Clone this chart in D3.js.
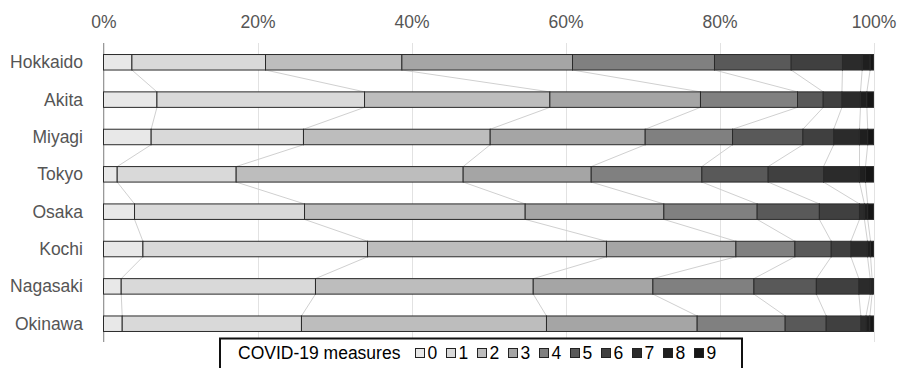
<!DOCTYPE html>
<html>
<head>
<meta charset="utf-8">
<script src="https://cdn.jsdelivr.net/npm/d3@7"></script>
<style>
  html, body { margin: 0; padding: 0; background: #fff; }
  svg { display: block; font-family: "Liberation Sans", Arial, sans-serif; }
</style>
</head>
<body>
<svg id="chart" width="898" height="368"></svg>
<script>
const categories = ["Hokkaido", "Akita", "Miyagi", "Tokyo", "Osaka", "Kochi", "Nagasaki", "Okinawa"];
const levels = ["0", "1", "2", "3", "4", "5", "6", "7", "8", "9"];
// share (%) of each measure level per prefecture, levels 0..9
const hokkaido = [3.69, 17.35, 17.71, 22.16, 18.44, 9.96, 6.66, 2.56, 1.03, 0.44];
const akita    = [6.94, 26.96, 24.07, 19.56, 12.60, 3.34, 2.43, 2.41, 0.83, 0.86];
const miyagi   = [6.19, 19.78, 24.25, 20.13, 11.34, 9.14, 4.00, 3.35, 1.07, 0.75];
const tokyo    = [1.78, 15.45, 29.48, 16.63, 14.37, 8.61, 7.19, 4.67, 0.78, 1.04];
const osaka    = [4.03, 22.08, 28.66, 18.01, 12.12, 8.08, 5.21, 0.64, 0.43, 0.75];
const kochi    = [5.12, 29.17, 31.03, 16.81, 7.66, 4.72, 2.55, 2.16, 0.40, 0.38];
const nagasaki = [2.30, 25.23, 28.28, 15.54, 13.12, 8.11, 5.52, 1.47, 0.25, 0.18];
const okinawa  = [2.43, 23.28, 31.82, 19.57, 11.43, 5.33, 4.50, 0.67, 0.50, 0.47];
const tickValues = [0, 20, 40, 60, 80, 100];
const legendTitle = "COVID-19 measures";
const colors = ["#e8e8e8", "#d9d9d9", "#bdbdbd", "#a5a5a5", "#808080", "#595959", "#404040", "#2b2b2b", "#1f1f1f", "#161616"];

const seriesRows = [hokkaido, akita, miyagi, tokyo, osaka, kochi, nagasaki, okinawa];
const table = categories.map((c, i) => {
  const vals = seriesRows[i];
  const total = d3.sum(vals);
  const row = { name: c };
  levels.forEach((l, j) => row[l] = vals[j] / total * 100);
  return row;
});

const svg = d3.select("#chart");
const x = d3.scaleLinear().domain([0, 100]).range([103.5, 873.5]);
const y = d3.scaleBand().domain(categories).range([43.6, 342.4]).paddingInner(0.585).paddingOuter(0.2925);
const bw = y.bandwidth();

// gridlines
svg.append("g").selectAll("line").data(tickValues).join("line")
  .attr("x1", d => Math.round(x(d)) + 0.5).attr("x2", d => Math.round(x(d)) + 0.5)
  .attr("y1", 43).attr("y2", 342)
  .attr("stroke", "#e2e2e2").attr("stroke-width", 1);

// top axis labels
const axis = d3.axisTop(x).tickValues(tickValues).tickFormat(d => d + "%").tickSize(0).tickPadding(0);
const ag = svg.append("g").attr("transform", "translate(0,28)").call(axis);
ag.select(".domain").remove();
ag.selectAll("text").attr("font-size", "17.5px").attr("fill", "#555").attr("font-family", "Liberation Sans, Arial, sans-serif");

// left axis line
svg.append("line").attr("x1", 103.5).attr("x2", 103.5).attr("y1", 43).attr("y2", 342)
  .attr("stroke", "#999").attr("stroke-width", 1);

// stacked
const stack = d3.stack().keys(levels);
const series = stack(table);

// connecting lines between consecutive bars
const conn = [];
for (let k = 0; k < levels.length - 1; k++) {
  for (let i = 0; i < categories.length - 1; i++) {
    conn.push({
      x1: x(series[k][i][1]), y1: y(categories[i]) + bw,
      x2: x(series[k][i + 1][1]), y2: y(categories[i + 1])
    });
  }
}
svg.append("g").selectAll("line").data(conn).join("line")
  .attr("x1", d => d.x1).attr("y1", d => d.y1)
  .attr("x2", d => d.x2).attr("y2", d => d.y2)
  .attr("stroke", "#d0d0d0").attr("stroke-width", 1);

// bars
svg.append("g").selectAll("g").data(series).join("g")
  .attr("fill", (d, i) => colors[i])
  .selectAll("rect").data(d => d).join("rect")
  .attr("x", d => x(d[0]))
  .attr("width", d => Math.max(0, x(d[1]) - x(d[0])))
  .attr("y", (d, i) => y(categories[i]))
  .attr("height", bw)
  .attr("stroke", "#2a2a2a").attr("stroke-width", 1);

// category labels
svg.append("g").selectAll("text").data(categories).join("text")
  .attr("x", 83).attr("y", d => y(d) + bw / 2)
  .attr("text-anchor", "end").attr("dominant-baseline", "central")
  .attr("font-size", "17.5px").attr("fill", "#555").text(d => d);

// legend
const lg = svg.append("g");
lg.append("rect").attr("x", 220).attr("y", 338.5).attr("width", 522).attr("height", 45)
  .attr("fill", "#fff").attr("stroke", "#111").attr("stroke-width", 2);
lg.append("text").attr("x", 238).attr("y", 359).attr("font-size", "17.5px").attr("fill", "#000").text(legendTitle);
const items = lg.selectAll("g.item").data(levels).join("g").attr("class", "item")
  .attr("transform", (d, i) => `translate(${415 + i * 31},0)`);
items.append("rect").attr("x", 0.5).attr("y", 348.5).attr("width", 9).attr("height", 9)
  .attr("fill", (d, i) => colors[i]).attr("stroke", "#222").attr("stroke-width", 1);
items.append("text").attr("x", 12.5).attr("y", 359).attr("font-size", "17.5px").attr("fill", "#000").text(d => d);
</script>
</body>
</html>
